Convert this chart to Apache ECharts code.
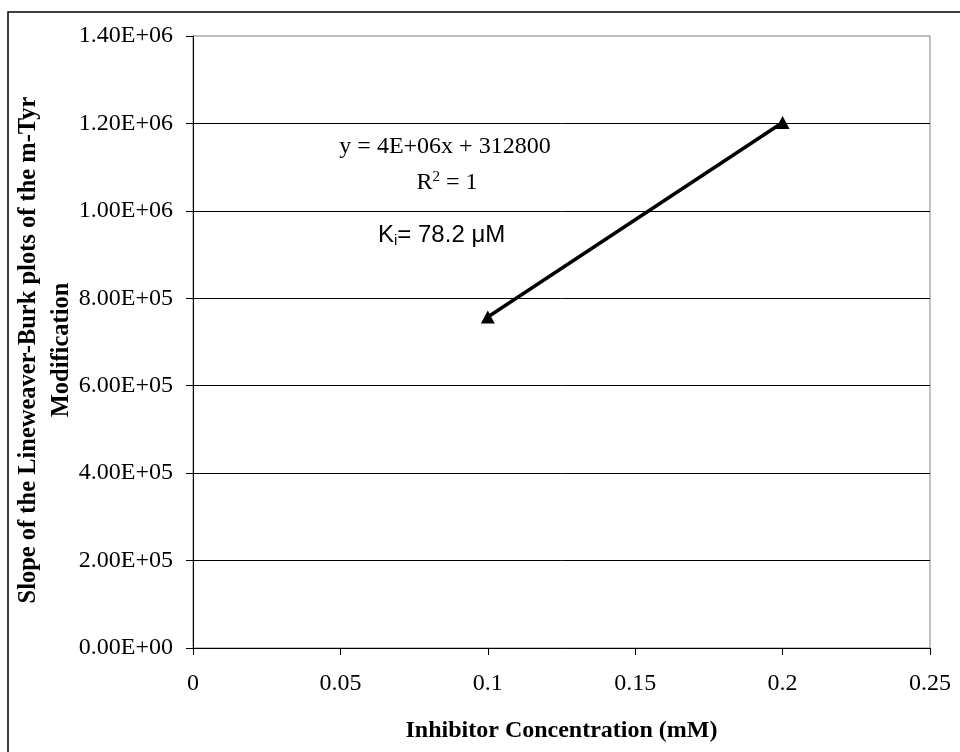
<!DOCTYPE html>
<html>
<head>
<meta charset="utf-8">
<script src="https://cdn.jsdelivr.net/npm/echarts@6/dist/echarts.min.js"></script>
<style>
  html, body { margin: 0; padding: 0; background: #fff; }
  #main { width: 960px; height: 752px; }
</style>
</head>
<body>
<div id="main"></div>
<script>
// data
var concentration = [0.1, 0.2];            // mM
var slopeValues = [757000, 1202000];       // slope of LB plots
var xTicks = { min: 0, max: 0.25, interval: 0.05 };
var yTicks = { min: 0, max: 1400000, interval: 200000 };
var fitText = ['y = 4E+06x + 312800', 'R{sup|2} = 1'];
var kiText = 'K{sub|i}= 78.2 \u03bcM';

var chartDom = document.getElementById('main');
var myChart = echarts.init(chartDom);

function sci(v) {
  // Excel-like 1.40E+06
  var s = v.toExponential(2).split('e');
  var exp = parseInt(s[1], 10);
  var sign = exp < 0 ? '-' : '+';
  var e = Math.abs(exp);
  return s[0] + 'E' + sign + (e < 10 ? '0' + e : e);
}

var serif = 'Liberation Serif';
var points = concentration.map(function (x, i) { return [x, slopeValues[i]]; });

var option = {
  animation: false,
  grid: {
    left: 193, top: 36, right: 30, bottom: 104,
    show: true, borderColor: '#808080', borderWidth: 1
  },
  xAxis: {
    type: 'value',
    min: xTicks.min, max: xTicks.max, interval: xTicks.interval,
    name: 'Inhibitor Concentration (mM)',
    nameLocation: 'middle',
    nameGap: 71,
    nameTextStyle: { fontFamily: serif, fontWeight: 'bold', fontSize: 24, color: '#000' },
    axisLine: { lineStyle: { color: '#000', width: 1 } },
    axisTick: { show: true, length: 7, lineStyle: { color: '#000' } },
    axisLabel: { fontFamily: serif, fontSize: 24, color: '#000', margin: 24 },
    splitLine: { show: false }
  },
  yAxis: {
    type: 'value',
    min: yTicks.min, max: yTicks.max, interval: yTicks.interval,
    axisLine: { show: true, lineStyle: { color: '#000', width: 1 } },
    axisTick: { show: true, length: 7, lineStyle: { color: '#000' } },
    axisLabel: { fontFamily: serif, fontSize: 24, color: '#000', margin: 20, formatter: sci },
    splitLine: { show: true, showMaxLine: false, lineStyle: { color: '#000', width: 1 } }
  },
  graphic: [
    {
      type: 'rect', silent: true, z: 0,
      shape: { x: 8, y: 12, width: 970, height: 760 },
      style: { fill: 'none', stroke: '#000', lineWidth: 1.5 }
    },
    {
      type: 'text', silent: true,
      x: 45, y: 350, rotation: Math.PI / 2,
      style: {
        text: 'Slope of the Lineweaver-Burk plots of the m-Tyr\nModification',
        fontFamily: serif, fontWeight: 'bold', fontSize: 24.5, lineHeight: 33,
        fill: '#000', align: 'center', verticalAlign: 'middle'
      }
    },
    {
      type: 'text', silent: true,
      x: 445, y: 147,
      style: {
        text: fitText[0],
        fontFamily: serif, fontSize: 24, fill: '#000',
        align: 'center', verticalAlign: 'middle'
      }
    },
    {
      type: 'text', silent: true,
      x: 447, y: 183,
      style: {
        text: fitText[1],
        fontFamily: serif, fontSize: 24, fill: '#000',
        align: 'center', verticalAlign: 'middle',
        rich: {
          sup: { fontFamily: serif, fontSize: 15, verticalAlign: 'top', padding: [0, 0, 12, 0] }
        }
      }
    },
    {
      type: 'text', silent: true,
      x: 378, y: 235,
      style: {
        text: kiText,
        fontFamily: 'Liberation Sans', fontSize: 24, fill: '#000',
        align: 'left', verticalAlign: 'middle',
        rich: {
          sub: { fontFamily: 'Liberation Sans', fontSize: 15, padding: [12, 0, 0, 0] }
        }
      }
    }
  ],
  series: [
    {
      type: 'line',
      data: points,
      symbol: 'triangle',
      symbolSize: [14, 13],
      showAllSymbol: true,
      itemStyle: { color: '#000' },
      lineStyle: { color: '#000', width: 3.5 }
    }
  ]
};
myChart.setOption(option);
</script>
</body>
</html>
